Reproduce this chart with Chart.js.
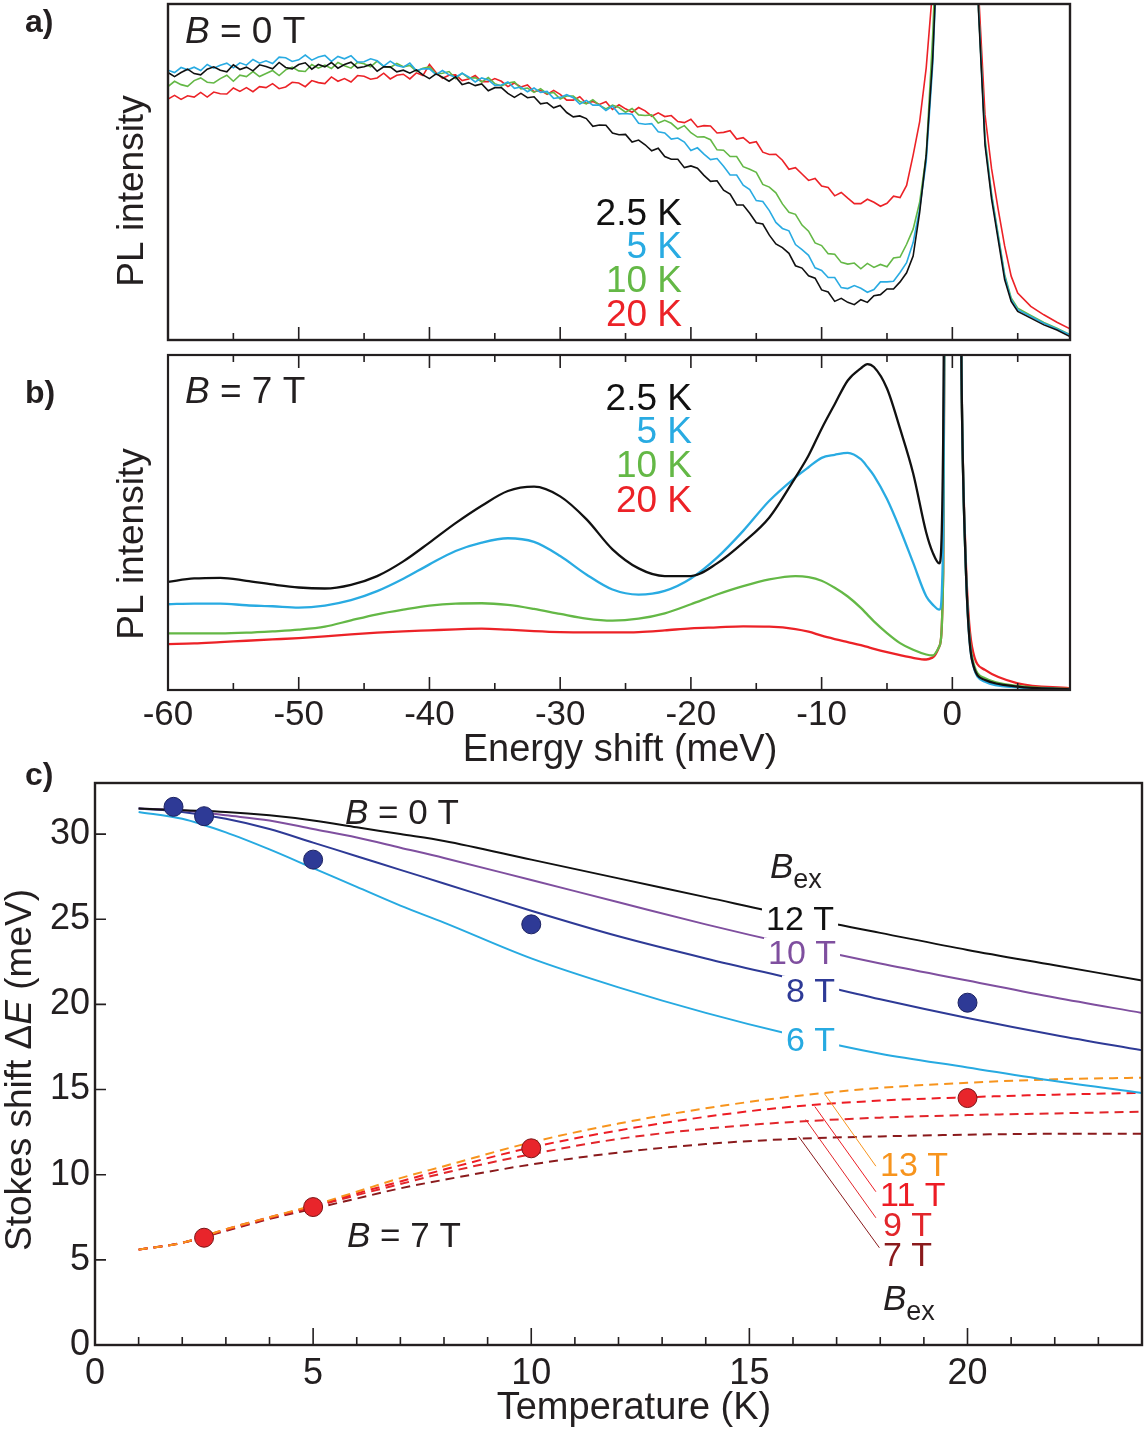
<!DOCTYPE html>
<html><head><meta charset="utf-8">
<script src="https://cdn.jsdelivr.net/npm/chart.js@4.4.0/dist/chart.umd.min.js"></script>
<style>
html,body{margin:0;padding:0;background:#fff;}
#wrap{position:relative;width:1145px;height:1430px;overflow:hidden;background:#fff;}
canvas{position:absolute;left:0;}
</style></head><body>
<div id="wrap">
<canvas id="ca" width="1145" height="345" style="top:0px;width:1145px;height:345px"></canvas>
<canvas id="cb" width="1145" height="425" style="top:345px;width:1145px;height:425px"></canvas>
<canvas id="cc" width="1145" height="680" style="top:750px;width:1145px;height:680px"></canvas>
</div>
<script>
// ================= DATA =================
// Panel a (B = 0 T): energy shift (meV) and PL intensity (arb. units, 0..100 = frame height)
const energyA = [-60,-59.5,-59,-58.5,-58,-57.5,-57,-56.5,-56,-55.5,-55,-54.5,-54,-53.5,-53,-52.5,-52,-51.5,-51,-50.5,-50,-49.5,-49,-48.5,-48,-47.5,-47,-46.5,-46,-45.5,-45,-44.5,-44,-43.5,-43,-42.5,-42,-41.5,-41,-40.5,-40,-39.5,-39,-38.5,-38,-37.5,-37,-36.5,-36,-35.5,-35,-34.5,-34,-33.5,-33,-32.5,-32,-31.5,-31,-30.5,-30,-29.5,-29,-28.5,-28,-27.5,-27,-26.5,-26,-25.5,-25,-24.5,-24,-23.5,-23,-22.5,-22,-21.5,-21,-20.5,-20,-19.5,-19,-18.5,-18,-17.5,-17,-16.5,-16,-15.5,-15,-14.5,-14,-13.5,-13,-12.5,-12,-11.5,-11,-10.5,-10,-9.5,-9,-8.5,-8,-7.5,-7,-6.5,-6,-5.5,-5,-4.5,-4,-3.5,-3,-2.5,-2,-1.5,-1,0,1,2,2.5,3,3.5,4,4.5,5,6,7,8,9];
const plA_2p5K = [79.6,78.4,79.6,80.6,79.3,78.9,80.6,81.3,80.3,79.8,81.9,80.5,81.2,80.1,81.9,81.4,80.7,82.6,81.1,80.7,82.0,82.5,80.6,82.0,81.3,82.6,80.9,82.0,82.7,81.0,81.3,82.0,80.0,81.3,81.3,79.8,80.3,79.4,80.4,78.9,77.8,79.2,78.2,77.0,78.3,76.0,76.6,75.7,76.2,74.2,75.1,75.1,73.4,72.2,73.4,72.1,72.4,70.3,70.6,69.1,69.8,67.7,66.4,66.7,65.9,63.6,64.0,63.9,61.6,61.1,61.2,58.9,59.5,58.1,56.3,57.1,54.6,53.8,53.8,51.3,51.8,51.1,49.0,47.2,47.4,44.6,43.4,40.2,40.2,37.7,34.9,34.5,31.2,28.6,27.5,25.8,22.1,21.4,19.1,18.4,14.9,14.3,11.5,12.4,11.2,10.5,12.0,11.2,13.2,13.5,15.2,15.2,17.3,20,25,38,55,84,130,300,250,98,58,42,30,18,11.5,8.5,6.5,4.5,3,1];
const plA_5K = [80.3,79.6,81.1,80.4,81.2,80.2,82.0,80.9,81.8,82.4,81.0,82.5,81.8,83.5,82.4,83.1,82.3,84.2,84.0,82.9,83.4,84.8,83.3,84.2,84.7,82.9,84.4,83.7,84.6,82.7,82.8,83.7,83.1,81.5,83.0,81.7,81.2,82.4,80.2,80.7,80.7,79.0,80.2,78.9,78.2,79.4,78.3,76.8,78.0,77.4,75.8,75.9,76.8,74.9,75.3,73.9,75.0,73.7,74.0,71.9,72.2,73.0,72.1,70.2,71.3,69.9,69.9,68.3,69.6,67.3,67.4,67.2,64.5,64.2,64.4,62.0,61.6,59.8,60.1,58.9,56.4,57.2,55.3,53.7,54.0,51.7,49.1,49.1,46.1,44.8,41.5,41.2,38.5,35.0,33.2,32.5,28.4,26.9,25.2,21.5,20.7,18.6,18.6,15.6,15.3,16.2,15.4,14.2,15.0,17.3,17.3,17.5,20.1,23,29,39,53,82,130,300,250,99,59,43,31,19,12,9,7,5,3.3,1.5];
const plA_10K = [75.4,77.0,76.0,75.5,77.2,78.0,76.7,76.5,77.8,78.8,77.0,78.8,78.4,79.9,78.4,79.3,80.2,78.7,80.4,81.2,80.1,79.9,82.0,80.9,81.8,80.8,82.6,81.6,80.9,82.6,82.2,81.3,83.0,81.4,81.1,82.3,81.3,81.7,80.0,80.9,81.3,79.2,79.4,79.9,77.8,79.4,77.9,78.1,76.8,78.1,76.3,75.6,76.5,76.8,74.7,75.0,73.7,74.8,73.3,73.7,71.7,72.6,72.6,71.0,70.3,71.5,69.9,68.8,69.9,69.2,67.8,68.9,67.0,66.8,67.0,64.6,65.4,64.5,62.8,63.8,61.7,60.4,60.5,59.6,56.6,56.5,54.6,54.6,51.6,50.8,49.9,46.3,45.5,43.8,40.5,38.0,37.4,34.2,32.4,28.9,28.1,25.7,25.5,23.1,22.6,22.9,21.2,22.8,21.6,22.5,21.8,24.4,24.7,28.5,33,41,55,91,140,300,250,99,60,43.5,31.5,19.5,12.5,9.5,7.3,5.2,3.5,1.6];
const plA_20K = [71.7,72.8,71.6,72.7,72.3,73.7,72.3,73.8,73.3,73.2,75.0,74.0,75.1,73.9,75.4,75.1,76.3,74.8,75.3,76.7,76.5,75.4,77.2,76.6,76.3,78.3,77.0,77.8,76.8,78.7,78.5,77.6,78.0,79.4,77.7,78.8,79.1,77.7,79.5,78.7,82.0,79.6,77.9,78.8,78.9,77.2,77.7,78.7,76.9,76.9,77.8,77.0,75.4,76.5,75.3,75.9,73.9,74.3,73.1,74.3,73.1,71.4,71.4,72.4,70.4,71.0,70.1,70.9,68.6,70.0,68.8,67.8,69.2,68.2,66.6,67.6,66.5,66.8,65.0,64.7,65.7,63.4,63.8,63.7,61.6,61.8,62.3,59.8,60.2,58.6,59.0,55.9,55.2,55.3,53.5,50.8,51.3,49.4,47.5,48.1,45.8,45.4,42.9,43.9,42.2,40.6,40.6,41.9,41.0,39.8,40.7,42.8,42.4,46,55,65,81,105,160,300,260,104,67,51,39,28,19,14,10,7.5,5.3,3.3];

// Panel b (B = 7 T)
const energyB = [-60,-58,-56,-54,-52,-50,-48,-46,-44,-42,-40,-38,-36,-34,-32,-30,-28,-26,-24,-22,-20,-18,-16,-14,-12,-11,-10,-9,-8,-7,-6.5,-6,-5,-4,-3,-2,-1.5,-1,-0.7,-0.5,0,0.5,0.7,1,1.5,2.5,5,9];
const plB_2p5K = [32.3,33.3,33.5,32.6,31.5,30.6,30.3,31.4,34.0,38.4,44.0,49.8,55.0,59.4,60.7,57.8,51.0,42.0,36.3,34.0,34.0,37.8,44.0,51.5,63.5,70.0,78.0,85.3,92.4,96.0,97.3,96.4,90.0,78.0,64.7,47.0,41.0,37.8,75,200,400,200,95,40,9,3,1,0.2];
const plB_5K = [25.6,25.8,25.8,25.3,25.0,24.6,25.2,26.8,29.5,33.2,37.5,41.5,44.0,45.3,44.2,40.0,34.5,30.0,28.5,29.6,33.3,39.5,47.5,56.5,63.5,66.5,69.3,70.2,70.8,68.9,66.6,64.0,57.0,48.0,38.0,28.0,25.5,24.0,45,200,400,200,95,40,9,2.5,0.8,0.2];
const plB_10K = [16.9,16.9,16.9,17.1,17.5,18.0,18.9,20.8,22.6,24.0,25.2,25.8,25.9,25.4,24.2,22.7,21.3,20.7,21.3,22.9,25.6,28.5,31.0,33.0,34.0,33.7,32.6,30.5,27.9,24.5,22.5,20.5,17.0,14.0,12.0,10.6,10.3,13.0,35,200,400,200,95,40,10,3.5,1.2,0.3];
const plB_20K = [13.7,13.9,14.3,14.7,15.1,15.5,16.0,16.6,17.1,17.5,17.8,18.1,18.3,18.0,17.6,17.3,17.2,17.2,17.3,17.8,18.4,18.7,19.0,18.9,18.2,17.4,16.2,15.2,14.3,13.4,12.85,12.3,11.3,10.4,9.6,9.1,9.7,13.0,35,200,400,200,95,42,13,6,2,0.5];

const ticksE = [-60,-50,-40,-30,-20,-10,0];
const tickLabelsE = ['-60','-50','-40','-30','-20','-10','0'];
const minorE = [-55,-45,-35,-25,-15,-5,5];

// Panel c: Stokes shift vs temperature
const tempGrid = [1,2,3,4,5,6,7,8,10,12,14,16,18,20,22,24];
const fit12T = [31.5,31.4,31.3,31.1,30.8,30.4,30.0,29.6,28.5,27.4,26.3,25.2,24.2,23.2,22.3,21.4];
const fit10T = [31.5,31.4,31.1,30.8,30.3,29.8,29.2,28.6,27.3,26.0,24.7,23.5,22.4,21.4,20.4,19.5];
const fit8T  = [31.5,31.3,30.9,30.3,29.5,28.7,27.9,27.1,25.5,24.0,22.7,21.5,20.3,19.2,18.2,17.3];
const fit6T  = [31.3,30.9,30.1,29.1,28.0,26.9,25.8,24.8,22.7,21.0,19.5,18.2,17.1,16.3,15.5,14.8];
const fit13T = [5.6,6.0,6.8,7.5,8.2,9.0,9.8,10.5,11.9,13.0,13.9,14.6,15.1,15.4,15.6,15.7];
const fit11T = [5.6,6.0,6.8,7.5,8.15,8.9,9.6,10.3,11.6,12.6,13.4,14.0,14.35,14.55,14.7,14.8];
const fit9T  = [5.6,6.0,6.75,7.45,8.1,8.8,9.45,10.1,11.2,12.1,12.7,13.1,13.35,13.5,13.6,13.7];
const fit7T  = [5.6,6.0,6.7,7.4,8.0,8.6,9.2,9.7,10.6,11.3,11.8,12.1,12.25,12.35,12.4,12.4];
const tempDots0T = [1.8,2.5,5,10,20];
const shiftDots0T = [31.6,31.05,28.5,24.7,20.1];
const tempDots7T = [2.5,5,10,20];
const shiftDots7T = [6.3,8.1,11.55,14.5];

const ticksT = [0,5,10,15,20];
const tickLabelsT = ['0','5','10','15','20'];
const minorT = [1,2,3,4,6,7,8,9,11,12,13,14,16,17,18,19,21,22,23];
const ticksS = [0,5,10,15,20,25,30];
const tickLabelsS = ['0','5','10','15','20','25','30'];

// ================= STYLE / HELPERS =================
const FONT = "'Liberation Sans', Arial, Helvetica, sans-serif";
const INK = '#231f20';
const COL = {k:'#111111', b:'#29abe2', g:'#64b846', r:'#ec2227',
  purple:'#7f4f9f', navy:'#2e3a96', lblue:'#27aae1', orange:'#f7941d', red:'#ed1c24', red9:'#e2262b', dred:'#8a1a1c'};

function pts(xs, ys){ return xs.map((x,i)=>({x:x, y:ys[i]})); }
function ds(xs, ys, color, w, extra){
  return Object.assign({data:pts(xs,ys), borderColor:color, backgroundColor:color, borderWidth:w, pointRadius:0, fill:false, tension:0}, extra||{});
}
function fontOf(p){ return (p.it?'italic ':'') + (p.bold?'bold ':'') + p.size + 'px ' + FONT; }
function drawParts(ctx, x, y, parts, align){
  let total = 0;
  parts.forEach(p=>{ ctx.font = fontOf(p); p.w = ctx.measureText(p.t).width; total += p.w; });
  let cx = align==='right' ? x-total : align==='center' ? x-total/2 : x;
  ctx.textAlign='left'; ctx.textBaseline='alphabetic';
  parts.forEach(p=>{ ctx.font = fontOf(p); ctx.fillStyle = p.c||INK; ctx.fillText(p.t, cx, y+(p.dy||0)); cx += p.w; });
}
function rotParts(ctx, x, y, parts){ ctx.save(); ctx.translate(x,y); ctx.rotate(-Math.PI/2); drawParts(ctx,0,0,parts,'center'); ctx.restore(); }
function boxedText(ctx, x, y, t, size, color){
  ctx.font = size+'px '+FONT; const w = ctx.measureText(t).width;
  ctx.fillStyle = '#fff'; ctx.fillRect(x-4, y-size*0.78, w+8, size*0.9);
  drawParts(ctx, x, y, [{t:t,size:size,c:color}], 'left');
}

function decor(spec){
  return { id:'decor', afterDatasetsDraw(chart){
    const ctx = chart.ctx, a = chart.chartArea, xs = chart.scales.x, ys = chart.scales.y;
    ctx.save();
    ctx.strokeStyle = INK; ctx.lineWidth = spec.tickWidth; ctx.beginPath();
    (spec.xTicks||[]).forEach(([vals,len,side])=>vals.forEach(v=>{
      const p = xs.getPixelForValue(v);
      if (side==='bottom'){ ctx.moveTo(p,a.bottom); ctx.lineTo(p,a.bottom-len); }
      else { ctx.moveTo(p,a.top); ctx.lineTo(p,a.top+len); }
    }));
    (spec.yTicks||[]).forEach(([vals,len])=>vals.forEach(v=>{
      const p = ys.getPixelForValue(v); ctx.moveTo(a.left,p); ctx.lineTo(a.left+len,p);
    }));
    ctx.stroke();
    ctx.lineWidth = spec.frameWidth;
    ctx.strokeRect(a.left, a.top, a.right-a.left, a.bottom-a.top);
    if (spec.extra) spec.extra(ctx, chart);
    ctx.restore();
  }};
}

const baseOpts = (pad) => ({
  responsive:false, animation:false, devicePixelRatio:1,
  layout:{padding:pad, autoPadding:false},
  plugins:{legend:{display:false}, tooltip:{enabled:false}},
  elements:{point:{radius:0}}
});
const hiddenAxis = (min,max,size,dir) => ({
  type:'linear', min:min, max:max,
  grid:{display:false, drawTicks:false}, border:{display:false}, ticks:{display:false},
  afterFit: s => { if(dir==='w') s.width=size; else s.height=size; }
});

// ================= PANEL A =================
new Chart(document.getElementById('ca'), {
  type:'line',
  data:{datasets:[
    ds(energyA, plA_2p5K, COL.k, 1.6),
    ds(energyA, plA_5K, COL.b, 1.6),
    ds(energyA, plA_10K, COL.g, 1.6),
    ds(energyA, plA_20K, COL.r, 1.6)
  ]},
  options: Object.assign(baseOpts({left:0,top:4,right:75,bottom:0}), {
    scales:{ x: hiddenAxis(-60,9,5,'h'), y: hiddenAxis(0,100,168,'w') }
  }),
  plugins:[decor({tickWidth:1.6, frameWidth:2.4,
    xTicks:[[ticksE,13,'bottom'],[minorE,7,'bottom']],
    extra(ctx){
      drawParts(ctx,25,32,[{t:'a)',size:32,bold:true}],'left');
      drawParts(ctx,185,43,[{t:'B',size:37,it:true},{t:' = 0 T',size:37}],'left');
      rotParts(ctx,143,191,[{t:'PL intensity',size:37}]);
      drawParts(ctx,682,225,[{t:'2.5 K',size:37,c:COL.k}],'right');
      drawParts(ctx,682,258,[{t:'5 K',size:37,c:COL.b}],'right');
      drawParts(ctx,682,292,[{t:'10 K',size:37,c:COL.g}],'right');
      drawParts(ctx,682,326,[{t:'20 K',size:37,c:COL.r}],'right');
    }})]
});

// ================= PANEL B =================
new Chart(document.getElementById('cb'), {
  type:'line',
  data:{datasets:[
    ds(energyB, plB_2p5K, COL.k, 2.3, {cubicInterpolationMode:'monotone'}),
    ds(energyB, plB_5K, COL.b, 2.3, {cubicInterpolationMode:'monotone'}),
    ds(energyB, plB_10K, COL.g, 2.3, {cubicInterpolationMode:'monotone'}),
    ds(energyB, plB_20K, COL.r, 2.3, {cubicInterpolationMode:'monotone'})
  ]},
  options: Object.assign(baseOpts({left:0,top:10,right:75,bottom:0}), {
    scales:{
      x:{ type:'linear', min:-60, max:9,
        grid:{display:false, drawTicks:false}, border:{display:false},
        afterBuildTicks: s => { s.ticks = ticksE.map(v=>({value:v})); },
        ticks:{ autoSkip:false, maxRotation:0, padding:4, color:INK, font:{family:FONT,size:35},
          callback:(v,i)=>tickLabelsE[i] },
        afterFit: s => { s.height = 80; } },
      y: hiddenAxis(0,100,168,'w')
    }
  }),
  plugins:[decor({tickWidth:1.6, frameWidth:2.2,
    xTicks:[[ticksE,13,'bottom'],[minorE,7,'bottom'],[ticksE,13,'top'],[minorE,7,'top']],
    extra(ctx){
      drawParts(ctx,25,58,[{t:'b)',size:32,bold:true}],'left');
      drawParts(ctx,185,58,[{t:'B',size:37,it:true},{t:' = 7 T',size:37}],'left');
      rotParts(ctx,143,199,[{t:'PL intensity',size:37}]);
      drawParts(ctx,692,65,[{t:'2.5 K',size:37,c:COL.k}],'right');
      drawParts(ctx,692,98,[{t:'5 K',size:37,c:COL.b}],'right');
      drawParts(ctx,692,132,[{t:'10 K',size:37,c:COL.g}],'right');
      drawParts(ctx,692,167,[{t:'20 K',size:37,c:COL.r}],'right');
      drawParts(ctx,620,416,[{t:'Energy shift (meV)',size:38}],'center');
    }})]
});

// ================= PANEL C =================
const dash = [9,6];
new Chart(document.getElementById('cc'), {
  type:'line',
  data:{datasets:[
    { data:pts(tempDots0T, shiftDots0T), showLine:false, pointRadius:9.5, pointBackgroundColor:COL.navy, pointBorderColor:'#1b2160', pointBorderWidth:1, borderColor:COL.navy, backgroundColor:COL.navy },
    { data:pts(tempDots7T, shiftDots7T), showLine:false, pointRadius:9.5, pointBackgroundColor:'#e8252b', pointBorderColor:'#7a1416', pointBorderWidth:1, borderColor:'#e8252b', backgroundColor:'#e8252b' },
    ds(tempGrid, fit12T, COL.k, 2, {cubicInterpolationMode:'monotone'}),
    ds(tempGrid, fit10T, COL.purple, 2, {cubicInterpolationMode:'monotone'}),
    ds(tempGrid, fit8T, COL.navy, 2, {cubicInterpolationMode:'monotone'}),
    ds(tempGrid, fit6T, COL.lblue, 2, {cubicInterpolationMode:'monotone'}),
    ds(tempGrid, fit13T, COL.orange, 2, {cubicInterpolationMode:'monotone', borderDash:dash}),
    ds(tempGrid, fit11T, COL.red, 2, {cubicInterpolationMode:'monotone', borderDash:dash}),
    ds(tempGrid, fit9T, COL.red9, 2, {cubicInterpolationMode:'monotone', borderDash:dash}),
    ds(tempGrid, fit7T, COL.dred, 2, {cubicInterpolationMode:'monotone', borderDash:dash})
  ]},
  options: Object.assign(baseOpts({left:0,top:33,right:3,bottom:0}), {
    scales:{
      x:{ type:'linear', min:0, max:24,
        grid:{display:false, drawTicks:false}, border:{display:false},
        afterBuildTicks: s => { s.ticks = ticksT.map(v=>({value:v})); },
        ticks:{ autoSkip:false, maxRotation:0, padding:7, color:INK, font:{family:FONT,size:36},
          callback:(v,i)=>tickLabelsT[i] },
        afterFit: s => { s.height = 85; } },
      y:{ type:'linear', min:0, max:33,
        grid:{display:false, drawTicks:false}, border:{display:false},
        afterBuildTicks: s => { s.ticks = ticksS.map(v=>({value:v})); },
        ticks:{ autoSkip:false, padding:5, color:INK, font:{family:FONT,size:36},
          callback:(v,i)=>tickLabelsS[i] },
        afterFit: s => { s.width = 95; } }
    }
  }),
  plugins:[decor({tickWidth:1.6, frameWidth:2.4,
    xTicks:[[ticksT,17,'bottom'],[minorT,8,'bottom']],
    yTicks:[[ticksS,11]],
    extra(ctx, chart){
      const xs = chart.scales.x, ys = chart.scales.y;
      drawParts(ctx,25,35,[{t:'c)',size:32,bold:true}],'left');
      drawParts(ctx,634,669,[{t:'Temperature (K)',size:38}],'center');
      rotParts(ctx,31,320,[{t:'Stokes shift Δ',size:37},{t:'E',size:37,it:true},{t:' (meV)',size:37}]);
      drawParts(ctx,345,74,[{t:'B',size:35,it:true},{t:' = 0 T',size:35}],'left');
      drawParts(ctx,347,497,[{t:'B',size:35,it:true},{t:' = 7 T',size:35}],'left');
      drawParts(ctx,770,128,[{t:'B',size:35,it:true},{t:'ex',size:27,dy:10}],'left');
      drawParts(ctx,883,560,[{t:'B',size:35,it:true},{t:'ex',size:27,dy:10}],'left');
      boxedText(ctx,766,180,'12 T',34,COL.k);
      boxedText(ctx,768,214,'10 T',34,COL.purple);
      boxedText(ctx,786,252,'8 T',34,COL.navy);
      boxedText(ctx,786,301,'6 T',34,COL.lblue);
      const leaders = [[16.72,14.76,17.9,10.5,COL.orange],[16.5,14.0,17.9,9.0,COL.red],[16.29,13.24,17.9,7.47,COL.red9],[16.13,12.24,17.98,5.71,COL.dred]];
      ctx.lineWidth = 1; ctx.setLineDash([]);
      leaders.forEach(([t1,s1,t2,s2,c])=>{ ctx.strokeStyle=c; ctx.beginPath(); ctx.moveTo(xs.getPixelForValue(t1), ys.getPixelForValue(s1)); ctx.lineTo(xs.getPixelForValue(t2), ys.getPixelForValue(s2)); ctx.stroke(); });
      drawParts(ctx,880,426,[{t:'13 T',size:34,c:COL.orange}],'left');
      drawParts(ctx,880,456,[{t:'11 T',size:34,c:COL.red}],'left');
      drawParts(ctx,883,486,[{t:'9 T',size:34,c:COL.red9}],'left');
      drawParts(ctx,883,516,[{t:'7 T',size:34,c:COL.dred}],'left');
    }})]
});
</script>
</body></html>
